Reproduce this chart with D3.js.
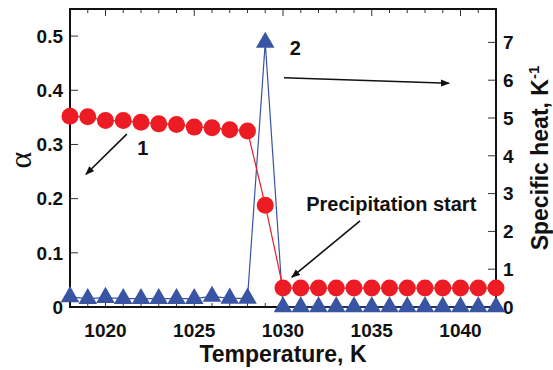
<!DOCTYPE html>
<html>
<head>
<meta charset="utf-8">
<script src="https://cdn.jsdelivr.net/npm/d3@7"></script>
<style>
  body { margin: 0; background: #fff; }
  text { font-family: "Liberation Sans", Arial, sans-serif; font-weight: bold; fill: #111; }
</style>
</head>
<body>
<div id="chart"></div>
<script>
{
  const { d3 } = window;

  const temperature = [1018, 1019, 1020, 1021, 1022, 1023, 1024, 1025, 1026, 1027, 1028, 1029,
    1030, 1031, 1032, 1033, 1034, 1035, 1036, 1037, 1038, 1039, 1040, 1041, 1042];
  const alpha = [0.352, 0.351, 0.344, 0.344, 0.341, 0.338, 0.337, 0.332, 0.331, 0.327, 0.325, 0.188,
    0.035, 0.035, 0.035, 0.035, 0.035, 0.035, 0.035, 0.035, 0.035, 0.035, 0.035, 0.035, 0.035];
  const specificHeat = [0.27, 0.22, 0.25, 0.22, 0.22, 0.22, 0.22, 0.22, 0.28, 0.23, 0.23, 7.0,
    0, 0, 0, 0, 0, 0, 0, 0, 0, 0, 0, 0, 0];

  const xTicks = [1020, 1025, 1030, 1035, 1040];
  const alphaTicks = [0, 0.1, 0.2, 0.3, 0.4, 0.5];
  const heatTicks = [0, 1, 2, 3, 4, 5, 6, 7];

  // annotations, in data units (T, alpha)
  const arrows = [
    [[1021.2, 0.319], [1018.9, 0.245]],
    [[1030.06, 0.423], [1039.35, 0.413]],
    [[1034.34, 0.159], [1030.5, 0.055]],
  ];
  const notes = [
    { t: 1022.1, a: 0.293, text: '1', anchor: 'middle' },
    { t: 1030.7, a: 0.478, text: '2', anchor: 'middle' },
    { t: 1036.1, a: 0.177, text: 'Precipitation start', anchor: 'middle', base: true },
  ];

  const width = 553;
  const height = 370;
  const left = 70;
  const right = 496;
  const top = 9;
  const bottom = 307;

  const red = '#ed1c24';
  const blue = '#3a54a4';

  const svg = d3.select('#chart').append('svg')
    .attr('width', width)
    .attr('height', height);

  const x = d3.scaleLinear().domain([1018, 1042]).range([left, right]);
  const yA = d3.scaleLinear().domain([0, 0.55]).range([bottom, top]);
  const yC = d3.scaleLinear().domain([0, 298 / 37.8]).range([bottom, top]);

  svg.append('defs').append('marker')
    .attr('id', 'head')
    .attr('viewBox', '0 -4 9 8')
    .attr('refX', 8)
    .attr('refY', 0)
    .attr('markerUnits', 'userSpaceOnUse')
    .attr('markerWidth', 9)
    .attr('markerHeight', 8)
    .attr('orient', 'auto')
    .append('path')
    .attr('d', 'M0,-3.5L9,0L0,3.5Z')
    .attr('fill', '#111');

  // ticks (inside)
  const minor = d3.range(1018, 1043);
  const tickG = svg.append('g').attr('stroke', '#333').attr('stroke-width', 1);
  minor.forEach((t) => {
    const len = t % 5 === 0 ? 7 : 4;
    tickG.append('line').attr('x1', x(t)).attr('x2', x(t))
      .attr('y1', bottom).attr('y2', bottom - len);
    tickG.append('line').attr('x1', x(t)).attr('x2', x(t))
      .attr('y1', top).attr('y2', top + len);
  });
  alphaTicks.forEach((v) => {
    tickG.append('line').attr('x1', left).attr('x2', left + 8)
      .attr('y1', yA(v)).attr('y2', yA(v));
  });
  heatTicks.forEach((v) => {
    tickG.append('line').attr('x1', right).attr('x2', right - 8)
      .attr('y1', yC(v)).attr('y2', yC(v));
  });

  svg.append('rect')
    .attr('x', left).attr('y', top)
    .attr('width', right - left).attr('height', bottom - top)
    .attr('fill', 'none').attr('stroke', '#111').attr('stroke-width', 2);

  // tick labels
  svg.append('g').selectAll('text').data(xTicks).join('text')
    .attr('x', (d) => x(d)).attr('y', 337)
    .attr('text-anchor', 'middle').attr('font-size', 19)
    .text((d) => d);
  svg.append('g').selectAll('text').data(alphaTicks).join('text')
    .attr('x', left - 7).attr('y', (d) => yA(d)).attr('dy', '0.36em')
    .attr('text-anchor', 'end').attr('font-size', 19)
    .text((d) => d3.format('.1~f')(d));
  svg.append('g').selectAll('text').data(heatTicks).join('text')
    .attr('x', right + 7).attr('y', (d) => yC(d)).attr('dy', '0.36em')
    .attr('font-size', 19)
    .text((d) => d);

  // axis titles
  svg.append('text')
    .attr('x', (left + right) / 2).attr('y', 362)
    .attr('text-anchor', 'middle').attr('font-size', 23)
    .text('Temperature, K');
  svg.append('text')
    .attr('transform', `translate(31,${(top + bottom) / 2 + 2}) rotate(-90)`)
    .attr('text-anchor', 'middle')
    .style('font-family', '"Liberation Serif", serif')
    .style('font-weight', 'normal')
    .attr('font-size', 32)
    .text('α');
  const rt = svg.append('text')
    .attr('transform', `translate(548,${(top + bottom) / 2}) rotate(-90)`)
    .attr('text-anchor', 'middle').attr('font-size', 23);
  rt.append('tspan').text('Specific heat, K');
  rt.append('tspan').attr('dy', -9).attr('font-size', 15).text('-1');

  // specific heat series
  const heatLine = d3.line().x((d, i) => x(temperature[i])).y((d) => yC(d));
  svg.append('path').datum(specificHeat)
    .attr('d', heatLine).attr('fill', 'none')
    .attr('stroke', blue).attr('stroke-width', 1.2);
  svg.append('g').selectAll('path').data(specificHeat).join('path')
    .attr('d', d3.symbol(d3.symbolTriangle, 150))
    .attr('transform', (d, i) => `translate(${x(temperature[i])},${yC(d)})`)
    .attr('fill', blue);

  // alpha series
  const alphaLine = d3.line().x((d, i) => x(temperature[i])).y((d) => yA(d));
  svg.append('path').datum(alpha)
    .attr('d', alphaLine).attr('fill', 'none')
    .attr('stroke', red).attr('stroke-width', 1.2);
  svg.append('g').selectAll('circle').data(alpha).join('circle')
    .attr('cx', (d, i) => x(temperature[i]))
    .attr('cy', (d) => yA(d))
    .attr('r', 8.5)
    .attr('fill', red);

  // annotations
  svg.append('g').selectAll('line').data(arrows).join('line')
    .attr('x1', (d) => x(d[0][0])).attr('y1', (d) => yA(d[0][1]))
    .attr('x2', (d) => x(d[1][0])).attr('y2', (d) => yA(d[1][1]))
    .attr('stroke', '#111').attr('stroke-width', 1.6)
    .attr('marker-end', 'url(#head)');
  svg.append('g').selectAll('text').data(notes).join('text')
    .attr('x', (d) => x(d.t)).attr('y', (d) => yA(d.a))
    .attr('dy', (d) => (d.base ? 0 : '0.36em'))
    .attr('text-anchor', (d) => d.anchor)
    .attr('font-size', 20)
    .text((d) => d.text);
}
</script>
</body>
</html>
